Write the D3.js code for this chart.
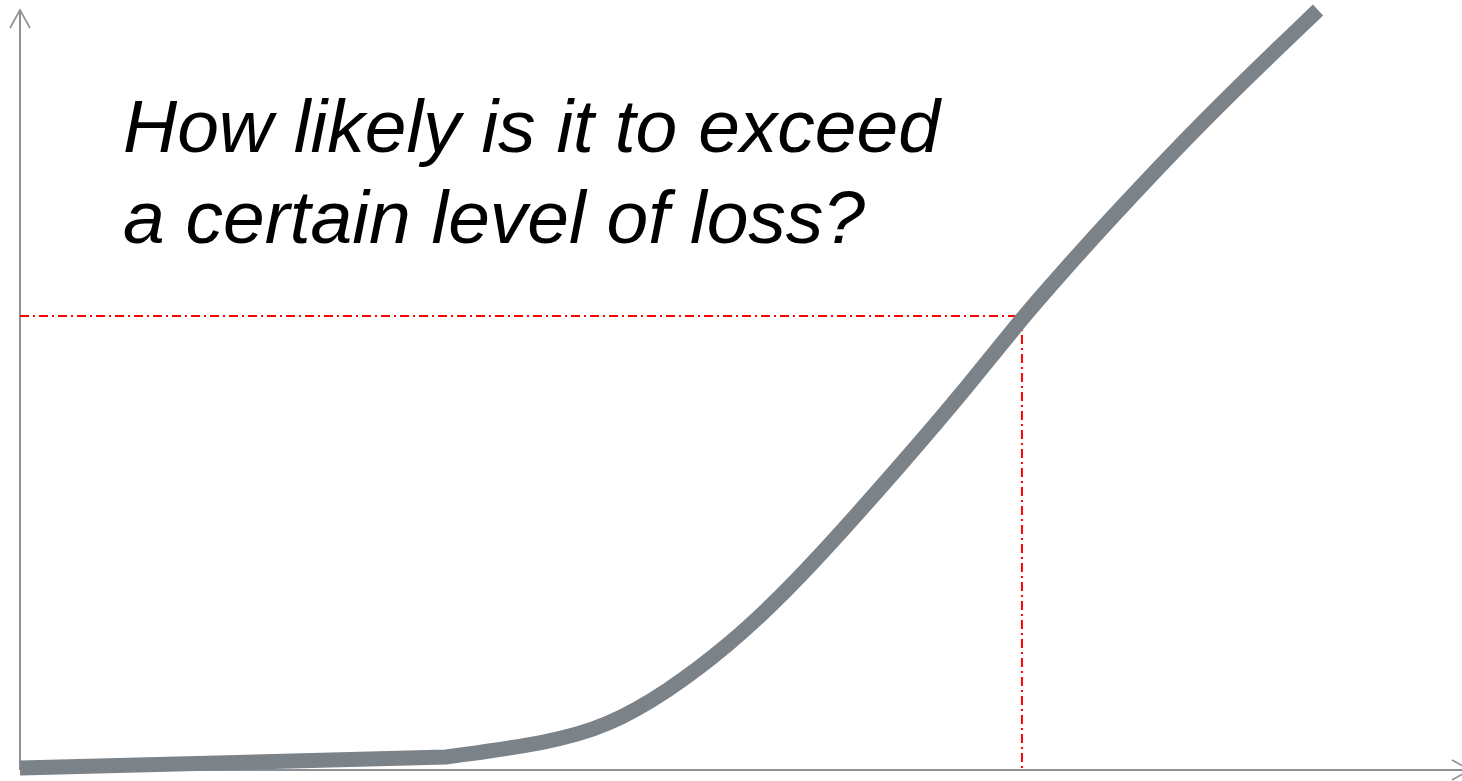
<!DOCTYPE html>
<html>
<head>
<meta charset="utf-8">
<script src="https://cdn.jsdelivr.net/npm/d3@7"></script>
<style>
  html, body { margin: 0; padding: 0; background: #ffffff; }
  svg { display: block; }
</style>
</head>
<body>
<svg id="chart" width="1462" height="781"></svg>
<script>
// ---- data (abstract units: loss 0..100, probability 0..100) ----
const lossValues = [0, 29.58, 36.67, 40.83, 44.93, 49.10, 53.19, 57.29, 61.39, 65.56, 69.58, 72.22, 75.0, 82.15, 90.14];
const exceedProb = [0.26, 1.71, 3.55, 5.79, 10.26, 16.18, 23.42, 31.84, 40.66, 49.87, 59.47, 65.13, 71.05, 85.53, 100];
const markerLoss = [69.58];
const markerProb = [59.74];
const titleLines = ["How likely is it to exceed", "a certain level of loss?"];

// ---- layout ----
const svg = d3.select("#chart");
const x = d3.scaleLinear().domain([0, 100]).range([20, 1460]);
const y = d3.scaleLinear().domain([0, 100]).range([770, 10]);

const axisColor = "#8c9196";

// axes lines
svg.append("line")
  .attr("x1", x(0)).attr("x2", x(0))
  .attr("y1", y(0)).attr("y2", y(100))
  .attr("stroke", axisColor).attr("stroke-width", 2);
svg.append("line")
  .attr("x1", x(0)).attr("x2", x(100) + 10)
  .attr("y1", y(0)).attr("y2", y(0))
  .attr("stroke", axisColor).attr("stroke-width", 2);

// arrowheads (open chevrons)
const yTipX = x(0), yTipY = y(100);
svg.append("path")
  .attr("d", `M${yTipX - 10},${yTipY + 18} L${yTipX},${yTipY} L${yTipX + 10},${yTipY + 18}`)
  .attr("fill", "none").attr("stroke", axisColor).attr("stroke-width", 1.6);
const xTipX = x(100) + 10, xTipY = y(0);
svg.append("path")
  .attr("d", `M${xTipX - 18},${xTipY - 10} L${xTipX},${xTipY} L${xTipX - 18},${xTipY + 10}`)
  .attr("fill", "none").attr("stroke", axisColor).attr("stroke-width", 1.6);

// red dash-dot guide lines
const mx = x(markerLoss[0]), my = y(markerProb[0]);
svg.append("line")
  .attr("x1", x(0)).attr("x2", mx)
  .attr("y1", my).attr("y2", my)
  .attr("stroke", "#ff0000").attr("stroke-width", 2)
  .attr("stroke-dasharray", "9,4,2,4");
svg.append("line")
  .attr("x1", mx).attr("x2", mx)
  .attr("y1", my).attr("y2", y(0))
  .attr("stroke", "#ff0000").attr("stroke-width", 2)
  .attr("stroke-dasharray", "9,4,2,4");

// curve: straight first segment, then smooth rise
const pts = lossValues.map((v, i) => [v, exceedProb[i]]);
const straight = d3.line().x(d => x(d[0])).y(d => y(d[1])).curve(d3.curveLinear);
const smooth = d3.line().x(d => x(d[0])).y(d => y(d[1])).curve(d3.curveBasis);
const dA = straight(pts.slice(0, 2));
const dB = smooth(pts.slice(1)).replace(/^M[^A-Za-z]*/, "");
svg.append("path")
  .attr("d", dA + dB)
  .attr("fill", "none")
  .attr("stroke", "#7b8288")
  .attr("stroke-width", 15)
  .attr("stroke-linecap", "butt")
  .attr("stroke-linejoin", "miter");

// title text
const t = svg.append("text")
  .attr("font-family", "'Liberation Sans', Arial, sans-serif")
  .attr("font-style", "italic")
  .attr("font-size", 75)
  .attr("fill", "#000");
titleLines.forEach((s, i) => {
  t.append("tspan").attr("x", 123).attr("y", 152 + i * 91).text(s);
});
</script>
</body>
</html>
